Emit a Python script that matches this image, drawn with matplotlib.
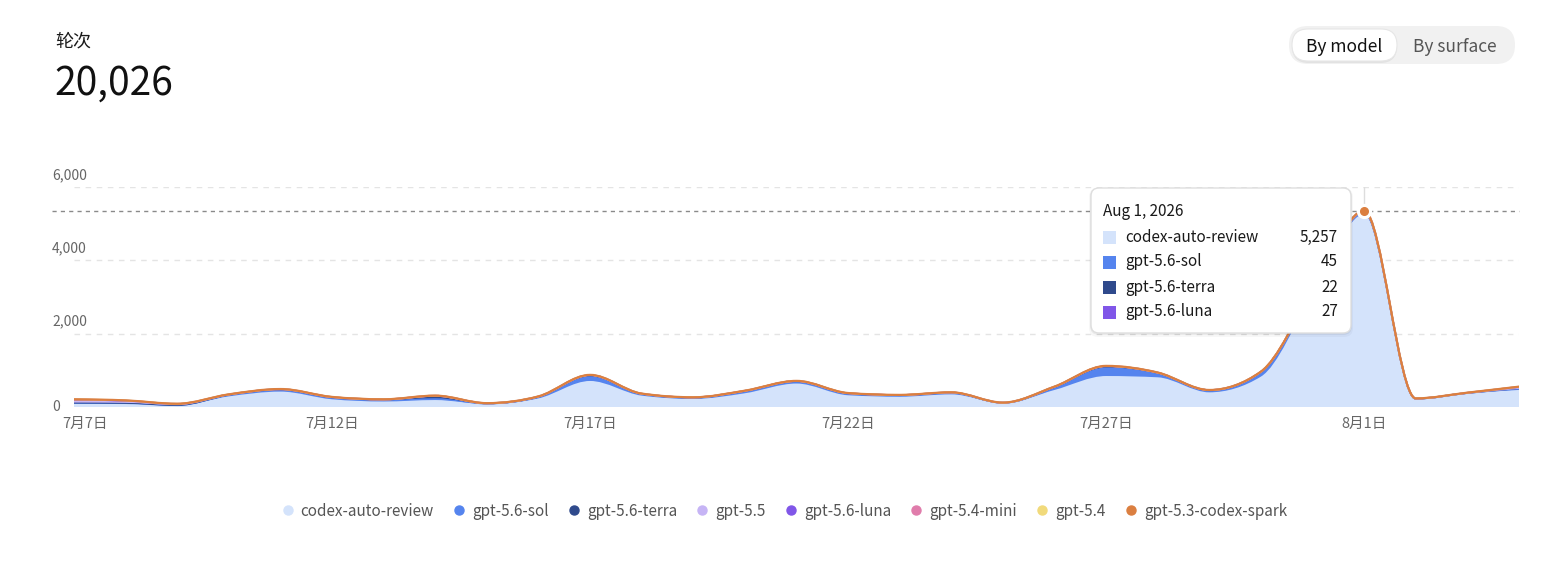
import numpy as np
import pandas as pd
import matplotlib
matplotlib.use("Agg")
import matplotlib.pyplot as plt
from matplotlib.path import Path
from matplotlib.patches import PathPatch, FancyBboxPatch
from matplotlib.transforms import Affine2D
from matplotlib.lines import Line2D

plt.rcParams['font.family'] = ['Noto Sans CJK SC', 'DejaVu Sans']

# data, one value per day, 7/7 .. 8/4
dates = pd.date_range('2026-07-07', '2026-08-04', freq='D')
names = ['codex-auto-review', 'gpt-5.6-sol', 'gpt-5.6-terra', 'gpt-5.5',
         'gpt-5.6-luna', 'gpt-5.4-mini', 'gpt-5.4', 'gpt-5.3-codex-spark']
colors = ['#d4e3fb', '#5584ee', '#2f4a8c', '#c6b4f5',
          '#8056e8', '#e07cab', '#f1da7b', '#db7f40']

codex = [95, 90, 40, 290, 420, 210, 150, 190, 80, 235, 710, 310, 220, 375, 640,
         320, 280, 345, 100, 465, 845, 810, 400, 830, 3070, 5257, 215, 370, 465]
sol = [15, 15, 10, 40, 55, 45, 40, 50, 15, 40, 130, 45, 35, 55, 60,
       48, 40, 45, 14, 60, 235, 110, 52, 120, 60, 45, 12, 12, 40]
terra = [10, 8, 5, 5, 5, 10, 12, 60, 4, 6, 25, 4, 4, 8, 5,
         5, 4, 4, 2, 25, 30, 12, 6, 8, 8, 22, 2, 2, 10]
gpt55 = [50, 40, 20, 3, 3, 3, 2, 3, 2, 3, 3, 2, 2, 2, 2,
         2, 2, 2, 1, 2, 3, 2, 2, 2, 2, 0, 1, 1, 5]
luna = [30, 20, 10, 3, 3, 3, 3, 3, 2, 3, 3, 2, 2, 2, 2,
        3, 2, 2, 1, 2, 4, 3, 2, 3, 8, 27, 3, 3, 30]
mini = [5, 4, 2, 2, 2, 2, 1, 2, 1, 1, 2, 1, 1, 1, 1,
        1, 1, 1, 1, 1, 1, 1, 1, 1, 1, 0, 1, 1, 2]
gpt54 = [3, 2, 1, 1, 1, 1, 1, 1, 0, 1, 1, 1, 0, 1, 1,
         1, 0, 1, 0, 1, 1, 1, 0, 1, 1, 0, 0, 1, 1]
spark = [2, 1, 1, 1, 1, 1, 1, 1, 1, 1, 2, 1, 1, 1, 1,
         1, 1, 1, 1, 1, 2, 1, 1, 1, 2, 0, 1, 1, 2]

series = [codex, sol, terra, gpt55, luna, mini, gpt54, spark]
hover = 25  # Aug 1
total_text = '20,026'


def tangents(x, y):
    # monotone-x tangents (same rule as d3.curveMonotoneX)
    h = np.diff(x)
    s = np.diff(y) / h
    t = np.zeros(len(y))
    sg = lambda v: -1.0 if v < 0 else 1.0
    for i in range(1, len(y) - 1):
        p = (s[i - 1] * h[i] + s[i] * h[i - 1]) / (h[i - 1] + h[i])
        t[i] = (sg(s[i - 1]) + sg(s[i])) * min(abs(s[i - 1]), abs(s[i]), 0.5 * abs(p))
    t[0] = (3 * s[0] - t[1]) / 2
    t[-1] = (3 * s[-1] - t[-2]) / 2
    return t


def curve(x, y, reverse=False):
    t = tangents(x, y)
    verts = []
    if not reverse:
        for i in range(len(x) - 1):
            h = x[i + 1] - x[i]
            verts += [(x[i] + h / 3, y[i] + t[i] * h / 3),
                      (x[i + 1] - h / 3, y[i + 1] - t[i + 1] * h / 3),
                      (x[i + 1], y[i + 1])]
    else:
        for i in range(len(x) - 1, 0, -1):
            h = x[i] - x[i - 1]
            verts += [(x[i] - h / 3, y[i] - t[i] * h / 3),
                      (x[i - 1] + h / 3, y[i - 1] + t[i - 1] * h / 3),
                      (x[i - 1], y[i - 1])]
    return verts


W, H = 1551, 564
fig = plt.figure(figsize=(W / 100, H / 100), dpi=100)
px = Affine2D().scale(0.01, -0.01).translate(0, H / 100) + fig.dpi_scale_trans

ax = fig.add_axes([74 / W, (H - 407) / H, 1445 / W, 220 / H])
x = np.arange(len(dates), dtype=float)
ax.set_xlim(0, x[-1])
ax.set_ylim(0, 6000)
for sp in ax.spines.values():
    sp.set_visible(False)
ax.set_xticks([])
ax.set_yticks([])

# grid
yticks = [0, 2000, 4000, 6000]
for v in yticks:
    ax.axhline(v, color='#e4e4e4', lw=1, dashes=(4, 4), zorder=1)
    ax.text(-22 / 1445, v + (0 if v == 0 else 330), f'{v:,}', transform=ax.get_yaxis_transform(),
            ha='left', va='center', fontsize=10, color='#666666')

# stacked areas
lower = np.zeros(len(x))
tops = []
for i, (vals, c) in enumerate(zip(series, colors)):
    upper = lower + np.array(vals, dtype=float)
    verts = [(x[0], upper[0])] + curve(x, upper) + [(x[-1], lower[-1])] + curve(x, lower, True) + [(x[0], upper[0])]
    codes = [Path.MOVETO] + [Path.CURVE4] * (3 * (len(x) - 1)) + [Path.LINETO] + \
            [Path.CURVE4] * (3 * (len(x) - 1)) + [Path.CLOSEPOLY]
    ax.add_patch(PathPatch(Path(verts, codes), facecolor=c, edgecolor='none', zorder=2 + i))
    lv = [(x[0], upper[0])] + curve(x, upper)
    lc = [Path.MOVETO] + [Path.CURVE4] * (3 * (len(x) - 1))
    ax.add_patch(PathPatch(Path(lv, lc), facecolor='none', edgecolor=c,
                           lw=1.6 if i == len(series) - 1 else 1.3, zorder=2 + i))
    lower = upper

top = lower

# x labels
for i in range(0, len(dates), 5):
    d = dates[i]
    ax.annotate(f'{d.month}月{d.day}日', (x[i], 0), xycoords=('data', 'axes fraction'),
                xytext=(11 if i == 0 else 0, -17), textcoords='offset pixels',
                ha='center', va='center', fontsize=10.5, color='#666666')

# hover crosshair and point
ax.plot([-22 / 1445, 1], [top[hover]] * 2, transform=ax.get_yaxis_transform(),
        color='#8a8a8a', lw=1, dashes=(3, 3), clip_on=False, zorder=20)
ax.plot([x[hover]] * 2, [top[hover], 6000], color='#dddddd', lw=1, zorder=20)
ax.plot(x[hover], top[hover], 'o', ms=10, color='white', zorder=21)
ax.plot(x[hover], top[hover], 'o', ms=5.5, color=colors[-1], zorder=22)

# tooltip
for k, a in [(4, 0.03), (2, 0.05)]:
    fig.patches.append(FancyBboxPatch((1091 - k / 2, 188), 260 + k, 145 + k, transform=px,
                                      boxstyle='round,pad=0,rounding_size=9',
                                      fc='black', ec='none', alpha=a, zorder=30))
fig.patches.append(FancyBboxPatch((1091, 188), 260, 145, transform=px,
                                  boxstyle='round,pad=0,rounding_size=8',
                                  fc='white', ec='#dedede', lw=1, zorder=31))
fig.text(1103, 212, f'{dates[hover].strftime("%b")} {dates[hover].day}, {dates[hover].year}',
         transform=px, ha='left', va='center', fontsize=11, color='#1a1a1a', zorder=32)
row_y = 237
for vals, c, n in zip(series, colors, names):
    v = vals[hover]
    if v == 0:
        continue
    fig.patches.append(FancyBboxPatch((1103, row_y - 6.5), 13, 13, transform=px,
                                      boxstyle='square,pad=0', fc=c, ec='none', zorder=32))
    fig.text(1125, row_y, n, transform=px, ha='left', va='center', fontsize=11,
             color='#1a1a1a', zorder=32)
    fig.text(1338, row_y, f'{v:,}', transform=px, ha='right', va='center', fontsize=11,
             color='#1a1a1a', zorder=32)
    row_y += 25

# header
fig.text(55, 46, '轮次', transform=px, ha='left', va='baseline', fontsize=13, color='#1a1a1a')
fig.text(54, 95, total_text, transform=px, ha='left', va='baseline', fontsize=28, color='#111111')

# toggle
fig.patches.append(FancyBboxPatch((1289, 26), 226, 38, transform=px,
                                  boxstyle='round,pad=0,rounding_size=19', fc='#f1f1f1', ec='none'))
fig.patches.append(FancyBboxPatch((1292, 30), 105, 33, transform=px,
                                  boxstyle='round,pad=0,rounding_size=16.5', fc='black', ec='none', alpha=0.06))
fig.patches.append(FancyBboxPatch((1292, 29), 105, 32, transform=px,
                                  boxstyle='round,pad=0,rounding_size=16', fc='white', ec='#e6e6e6', lw=0.8))
fig.text(1344, 52, 'By model', transform=px, ha='center', va='baseline', fontsize=12.5, color='#111111')
fig.text(1455, 52, 'By surface', transform=px, ha='center', va='baseline', fontsize=12.5, color='#555555')

# legend
handles = [Line2D([], [], ls='', marker='o', ms=6.5, color=c) for c in colors]
fig.legend(handles, names, loc='center', bbox_to_anchor=(785 / W, 1 - 511 / H), ncol=len(names),
           frameon=False, fontsize=11, labelcolor='#555555', handlelength=0.6,
           handletextpad=0.55, columnspacing=1.35, borderaxespad=0)

fig.savefig('out.png', dpi=100, facecolor='white')
